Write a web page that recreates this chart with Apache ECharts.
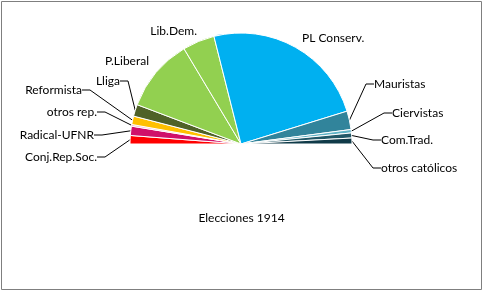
<!DOCTYPE html>
<html>
<head>
<meta charset="utf-8">
<script src="https://cdn.jsdelivr.net/npm/echarts@6/dist/echarts.min.js"></script>
<style>
html,body{margin:0;padding:0;background:#fff;}
#chart{width:483px;height:291px;}
</style>
</head>
<body>
<div id="chart"></div>
<script>
const categories = ['Conj.Rep.Soc.','Radical-UFNR','otros rep.','Reformista','Lliga','P.Liberal','Lib.Dem.','PL Conserv.','Mauristas','Ciervistas','Com.Trad.','otros católicos'];
const seats = [10, 11, 2, 10, 14, 87, 38, 197, 22, 4, 6, 7];
const colors = ['#ff0000','#d0106a','#f7a8c0','#ffc000','#4f6228','#92d050','#92d050','#00b0f0','#31849b','#5fb3c6','#215867','#0f3a48'];
const chartTitle = 'Elecciones 1914';

// label placement (layout, not data)
const labelPos = [
  [97, 157, 'right'],
  [94, 135, 'right'],
  [97, 112, 'right'],
  [82, 90, 'right'],
  [120, 81, 'right'],
  [149, 61, 'right'],
  [197, 31, 'right'],
  [302, 38, 'left'],
  [374, 84, 'left'],
  [392, 113, 'left'],
  [381, 140, 'left'],
  [381, 168, 'left']
];
const noLine = [5, 6, 7];

const chart = echarts.init(document.getElementById('chart'), null, {renderer: 'canvas'});
const data = categories.map((c, i) => ({
  name: c,
  value: seats[i],
  itemStyle: {color: colors[i]},
  labelLine: {show: noLine.indexOf(i) < 0}
}));
chart.setOption({
  animation: false,
  title: {
    text: chartTitle,
    left: 'center',
    top: 207,
    textStyle: {fontFamily: 'Lato', fontSize: 12, fontWeight: 'normal', color: '#000'}
  },
  graphic: [{
    type: 'rect',
    shape: {x: 1.5, y: 1.5, width: 480, height: 288},
    style: {fill: 'none', stroke: '#7f7f7f', lineWidth: 1},
    silent: true
  }],
  series: [{
    type: 'pie',
    center: [241, 144],
    radius: 111,
    startAngle: 180,
    endAngle: 0,
    clockwise: true,
    avoidLabelOverlap: false,
    silent: true,
    itemStyle: {borderColor: '#fff', borderWidth: 1},
    label: {
      show: true,
      position: 'outside',
      formatter: '{b}',
      fontFamily: 'Lato',
      fontSize: 12,
      color: '#000'
    },
    labelLine: {
      show: true,
      length: 8,
      length2: 8,
      lineStyle: {color: '#000', width: 1}
    },
    labelLayout: function (params) {
      const p = labelPos[params.dataIndex];
      return {x: p[0], y: p[1], align: p[2], verticalAlign: 'middle'};
    },
    data: data
  }]
});
</script>
</body>
</html>
